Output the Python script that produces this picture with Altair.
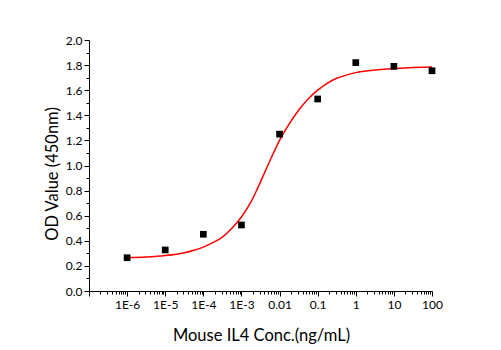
import altair as alt
import pandas as pd
import math

# measured points
conc = [1e-6, 1e-5, 1e-4, 1e-3, 1e-2, 1e-1, 1, 10, 100]
od = [0.265, 0.327, 0.452, 0.526, 1.25, 1.53, 1.82, 1.79, 1.755]

# fitted curve (log10 concentration, OD)
curve_logx = [-6, -5.5, -5, -4.5, -4.25, -4, -3.75, -3.5, -3.25, -3, -2.75, -2.5, -2.25,
              -2, -1.75, -1.5, -1.25, -1, -0.75, -0.5, -0.25, 0, 0.5, 1, 1.5, 2]
curve_od = [0.265, 0.27, 0.282, 0.305, 0.325, 0.35, 0.385, 0.43, 0.50, 0.59, 0.71, 0.87, 1.04,
            1.20, 1.33, 1.44, 1.53, 1.60, 1.655, 1.695, 1.72, 1.74, 1.76, 1.773, 1.78, 1.785]

x_major = [1e-7, 1e-6, 1e-5, 1e-4, 1e-3, 1e-2, 1e-1, 1, 10, 100]
x_labels = ["", "1E-6", "1E-5", "1E-4", "1E-3", "0.01", "0.1", "1", "10", "100"]
x_minor = [m * d for d in x_major[:-1] for m in range(2, 10)]
y_ticks = [round(i * 0.1, 1) for i in range(0, 21)]

pts = pd.DataFrame({"conc": conc, "od": od})
curve = pd.DataFrame({"conc": [10 ** v for v in curve_logx], "od": curve_od})

label_map = "{" + ",".join(
    f"'{round(math.log10(v))}':'{l}'" for v, l in zip(x_major, x_labels)) + "}"
is_major_x = "abs(log(datum.value)/LN10 - round(log(datum.value)/LN10)) < 1e-6"

xscale = alt.Scale(type="log", domain=[1e-7, 100], nice=False)
yscale = alt.Scale(domain=[0, 2], nice=False)

xaxis = alt.Axis(
    values=sorted(x_major + x_minor),
    labelExpr=f"{is_major_x} ? {label_map}[''+round(log(datum.value)/LN10)] : ''",
    tickSize={"condition": {"test": is_major_x, "value": 5}, "value": 3},
    labelPadding=3, labelOverlap=False, labelFlush=False,
    title="Mouse IL4 Conc.(ng/mL)", titleFontSize=16.5,
    titleX=172, titleY=49.5, titleBaseline="alphabetic", titleAlign="center",
)
is_major_y = "round(datum.value*10) % 2 == 0"
yaxis = alt.Axis(
    values=y_ticks,
    labelExpr=f"{is_major_y} ? format(datum.value, '.1f') : ''",
    tickSize={"condition": {"test": is_major_y, "value": 5}, "value": 3},
    labelPadding=2, labelOverlap=False, labelFlush=False,
    title="OD Value (450nm)", titleFontSize=16.5,
    titleX=-32, titleY=133.5, titleAngle=-90, titleBaseline="alphabetic", titleAlign="center",
)

line = alt.Chart(curve).mark_line(color="#ff0000", strokeWidth=1.5, interpolate="monotone").encode(
    x=alt.X("conc:Q", scale=xscale, axis=xaxis),
    y=alt.Y("od:Q", scale=yscale, axis=yaxis),
)
points = alt.Chart(pts).mark_square(color="black", size=45, opacity=1).encode(
    x=alt.X("conc:Q", scale=xscale, axis=xaxis),
    y=alt.Y("od:Q", scale=yscale, axis=yaxis),
)

chart = alt.layer(line, points).properties(
    width=343, height=251,
    autosize=alt.AutoSizeParams(type="none"),
    padding={"left": 89, "top": 40, "right": 69, "bottom": 59},
    background="white",
).configure_view(stroke=None).configure_axis(
    grid=False, domainColor="black", tickColor="black", labelColor="black",
    titleColor="black", labelFont="Lato", titleFont="Lato", labelFontSize=12,
    titleFontWeight="normal", domainWidth=1, tickWidth=1, labelOverlap=False,
)

chart.save("out.html", embed_options={"renderer": "svg", "actions": False})
